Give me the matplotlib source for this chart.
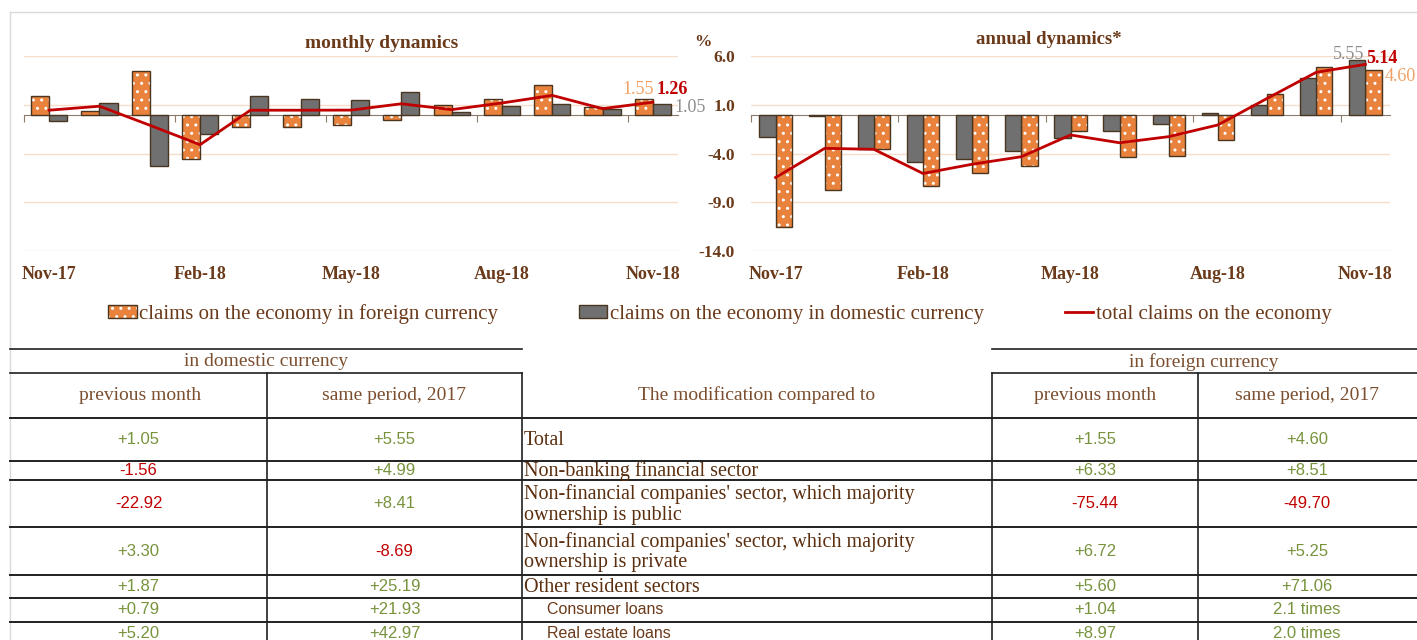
import matplotlib
matplotlib.use('Agg')
import matplotlib.pyplot as plt
from matplotlib.patches import Patch
from matplotlib.lines import Line2D
from matplotlib.legend_handler import HandlerTuple
import numpy as np

# ---------------- data ----------------
months = ['Nov-17', 'Dec-17', 'Jan-18', 'Feb-18', 'Mar-18', 'Apr-18', 'May-18',
          'Jun-18', 'Jul-18', 'Aug-18', 'Sep-18', 'Oct-18', 'Nov-18']

m_foreign = [1.86, 0.40, 4.50, -4.56, -1.28, -1.28, -1.05, -0.54, 1.00, 1.62, 3.04, 0.74, 1.55]
m_domestic = [-0.68, 1.15, -5.30, -1.96, 1.86, 1.62, 1.49, 2.26, 0.27, 0.84, 1.11, 0.60, 1.05]
m_total = [0.44, 0.85, -1.10, -3.10, 0.44, 0.44, 0.45, 1.10, 0.50, 1.18, 1.96, 0.60, 1.26]

a_foreign = [-11.55, -7.70, -3.57, -7.35, -6.05, -5.26, -1.72, -4.40, -4.26, -2.60, 2.06, 4.85, 4.60]
a_domestic = [-2.34, -0.20, -3.54, -4.85, -4.60, -3.75, -2.40, -1.65, -0.96, 0.17, 1.00, 3.75, 5.55]
a_total = [-6.46, -3.47, -3.57, -6.05, -5.10, -4.33, -2.10, -2.90, -2.27, -1.07, 1.65, 4.33, 5.14]

y_ticks = [6.0, 1.0, -4.0, -9.0, -14.0]

series_names = ['claims on the economy in foreign currency',
                'claims on the economy in domestic currency',
                'total claims on the economy']

row_labels = ['Total',
              'Non-banking financial sector',
              "Non-financial companies' sector, which majority\nownership is public",
              "Non-financial companies' sector, which majority\nownership is private",
              'Other resident sectors',
              'Consumer loans',
              'Real estate loans']
dom_prev = ['+1.05', '-1.56', '-22.92', '+3.30', '+1.87', '+0.79', '+5.20']
dom_same = ['+5.55', '+4.99', '+8.41', '-8.69', '+25.19', '+21.93', '+42.97']
for_prev = ['+1.55', '+6.33', '-75.44', '+6.72', '+5.60', '+1.04', '+8.97']
for_same = ['+4.60', '+8.51', '-49.70', '+5.25', '+71.06', '2.1 times', '2.0 times']

# ---------------- style ----------------
ORANGE = '#E8823C'
GRAY = '#707070'
EDGE = '#4A3520'
RED = '#C00000'
BROWN = '#6B3A1A'
GRID = '#F5DECB'
GREEN = '#77933C'
SERIF = ['Liberation Serif', 'DejaVu Serif']
SANS = ['Liberation Sans', 'DejaVu Sans']

W, H = 1417, 640
fig = plt.figure(figsize=(W / 100, H / 100), dpi=100)


def px_axes(x0, y0, x1, y1):
    return fig.add_axes([x0 / W, 1 - y1 / H, (x1 - x0) / W, (y1 - y0) / H])


def draw_chart(ax, foreign, domestic, total, foreign_left, w):
    x = np.arange(len(months))
    off = w / 2
    xf = x - off if foreign_left else x + off
    xd = x + off if foreign_left else x - off
    ax.bar(xf, foreign, width=w, color=ORANGE, edgecolor='white', hatch='..', linewidth=0, zorder=2)
    ax.bar(xf, foreign, width=w, fill=False, edgecolor=EDGE, linewidth=1.0, zorder=3)
    ax.bar(xd, domestic, width=w, color=GRAY, edgecolor=EDGE, linewidth=1.0, zorder=3)
    ax.plot(x, total, color=RED, lw=2, zorder=4)
    ax.set_xlim(-0.5, len(months) - 0.5)
    ax.set_ylim(-14, 6)
    ax.set_yticks(y_ticks)
    ax.yaxis.grid(True, color=GRID, lw=1)
    ax.set_axisbelow(True)
    for s in ['top', 'right', 'left']:
        ax.spines[s].set_visible(False)
    ax.spines['bottom'].set_position(('data', 0))
    ax.spines['bottom'].set_color('#8C7B6B')
    ax.spines['bottom'].set_zorder(1)
    ax.set_xticks(np.arange(-0.5, len(months) - 1, 3))
    ax.tick_params(axis='x', length=5, color='#8C7B6B', labelbottom=False)
    tr = ax.get_xaxis_transform()
    for i in range(0, len(months), 3):
        ax.text(i, -0.123, months[i], transform=tr, ha='center', va='center',
                family=SERIF, fontweight='bold', fontsize=13, color=BROWN)
    return x


ax_m = px_axes(24, 56, 678, 251)
xm = draw_chart(ax_m, m_foreign, m_domestic, m_total, True, 0.36)
ax_m.tick_params(axis='y', length=0, labelleft=False)

ax_a = px_axes(751, 56, 1390, 251)
xa = draw_chart(ax_a, a_foreign, a_domestic, a_total, False, 0.33)
ax_a.set_yticklabels([f'{v:.1f}' for v in y_ticks])
ax_a.tick_params(axis='y', length=0, pad=11.5)
for lab in ax_a.get_yticklabels():
    lab.set_family(SERIF)
    lab.set_fontweight('bold')
    lab.set_fontsize(12.5)
    lab.set_color(BROWN)

# titles
fig.text(382 / W, 1 - 43 / H, 'monthly dynamics', ha='center', va='center',
         family=SERIF, fontweight='bold', fontsize=14, color=BROWN)
fig.text(1049 / W, 1 - 40 / H, 'annual dynamics*', ha='center', va='center',
         family=SERIF, fontweight='bold', fontsize=13.5, color=BROWN)
fig.text(703 / W, 1 - 42 / H, '%', ha='center', va='center',
         family=SERIF, fontweight='bold', fontsize=12.5, color=BROWN)

# data labels (last values)
LBL_OR = '#F0A064'
LBL_GR = '#8C8C8C'
n = len(months) - 1
ax_m.annotate(f'{m_foreign[n]:.2f}', (xm[n] - 0.18, m_foreign[n]), xytext=(-4, 7),
              textcoords='offset points', ha='center', va='center', fontsize=13,
              family=SERIF, color=LBL_OR)
ax_m.annotate(f'{m_total[n]:.2f}', (xm[n], m_total[n]), xytext=(14, 9),
              textcoords='offset points', ha='center', va='center', fontsize=13,
              family=SERIF, fontweight='bold', color=RED)
ax_m.annotate(f'{m_domestic[n]:.2f}', (xm[n] + 0.18, m_domestic[n]), xytext=(20, -2),
              textcoords='offset points', ha='center', va='center', fontsize=13,
              family=SERIF, color=LBL_GR)
ax_a.annotate(f'{a_domestic[n]:.2f}', (xa[n] - 0.165, a_domestic[n]), xytext=(-6, 4),
              textcoords='offset points', ha='center', va='center', fontsize=13,
              family=SERIF, color=LBL_GR)
ax_a.annotate(f'{a_total[n]:.2f}', (xa[n], a_total[n]), xytext=(12, 4),
              textcoords='offset points', ha='center', va='center', fontsize=13,
              family=SERIF, fontweight='bold', color=RED)
ax_a.annotate(f'{a_foreign[n]:.2f}', (xa[n] + 0.165, a_foreign[n]), xytext=(19, -5),
              textcoords='offset points', ha='center', va='center', fontsize=13,
              family=SERIF, color=LBL_OR)
for a in (ax_m, ax_a):
    for t in a.texts:
        t.set_clip_on(False)

# legend
h1 = (Patch(facecolor=ORANGE, edgecolor='white', hatch='..', lw=0),
      Patch(fill=False, edgecolor=EDGE, lw=1))
h2 = Patch(facecolor=GRAY, edgecolor=EDGE, lw=1)
h3 = Line2D([], [], color=RED, lw=2)
leg = fig.legend([h1, h2, h3], series_names, loc='center',
                 bbox_to_anchor=(720 / W, 1 - 314 / H), ncol=3, frameon=False,
                 handler_map={tuple: HandlerTuple(ndivide=1)},
                 prop={'family': SERIF, 'size': 15}, handlelength=1.35,
                 handleheight=0.55, handletextpad=0.12, columnspacing=3.9)
for t in leg.get_texts():
    t.set_color(BROWN)

# ---------------- table ----------------
tab = fig.add_axes([0, 0, 1, 1], zorder=-1)
tab.set_xlim(0, W)
tab.set_ylim(H, 0)
tab.axis('off')

# frame
tab.plot([10, 10], [12, H], color='#DADADA', lw=1)
tab.plot([10, W], [12, 12], color='#DADADA', lw=1)

LC = '#202020'
col_x = [10, 267, 522, 992, 1198, W]
row_y = [418, 461, 480, 527, 575, 598, 622, 646]

for y in (349, 373):
    tab.plot([10, 522], [y, y], color=LC, lw=1.2)
    tab.plot([992, W], [y, y], color=LC, lw=1.2)
for y in row_y[:-1]:
    tab.plot([10, W], [y, y], color=LC, lw=1.4)
for xv in col_x[1:5]:
    tab.plot([xv, xv], [373, H], color=LC, lw=1.2)

HB = '#7A4E2E'
HFS = 14
tab.text(266, 362, 'in domestic currency', ha='center', va='center', family=SERIF, fontsize=HFS, color=HB)
tab.text(1204, 362, 'in foreign currency', ha='center', va='center', family=SERIF, fontsize=HFS, color=HB)
tab.text(140, 395, 'previous month', ha='center', va='center', family=SERIF, fontsize=HFS, color=HB)
tab.text(394, 395, 'same period, 2017', ha='center', va='center', family=SERIF, fontsize=HFS, color=HB)
tab.text(757, 395, 'The modification compared to', ha='center', va='center', family=SERIF, fontsize=HFS, color=HB)
tab.text(1095, 395, 'previous month', ha='center', va='center', family=SERIF, fontsize=HFS, color=HB)
tab.text(1307, 395, 'same period, 2017', ha='center', va='center', family=SERIF, fontsize=HFS, color=HB)

centers = [138.5, 394.5, 1095, 1307]
for i, lab in enumerate(row_labels):
    yc = (row_y[i] + row_y[i + 1]) / 2 if i < len(row_labels) - 1 else 633
    if i >= 5:
        tab.text(547, yc, lab, ha='left', va='center', family=SANS, fontsize=11.5, color=BROWN)
    else:
        tab.text(524, yc + 1, lab, ha='left', va='center', family=SERIF, fontsize=14.5,
                 color='#5A2E0E', linespacing=1.13)
    for cx, vals in zip(centers, (dom_prev, dom_same, for_prev, for_same)):
        v = vals[i]
        tab.text(cx, yc, v, ha='center', va='center', family=SANS, fontsize=12,
                 color=RED if v.startswith('-') else GREEN)

fig.savefig('out.png', dpi=100)
